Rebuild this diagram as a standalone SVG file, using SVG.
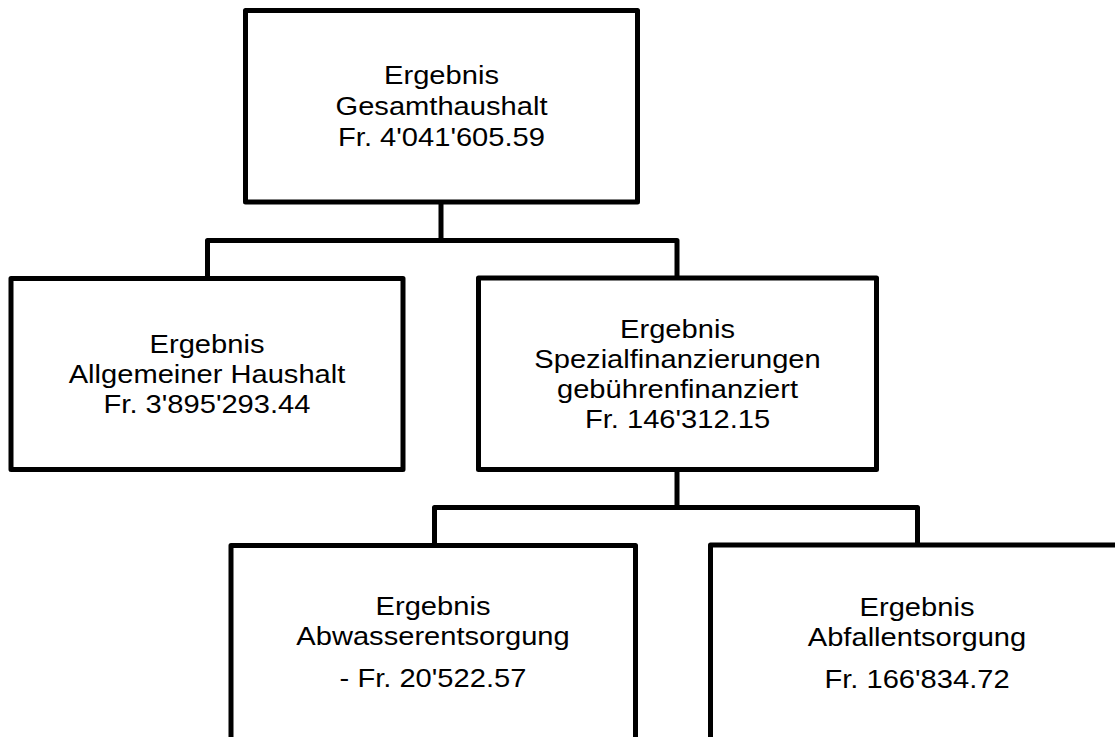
<svg xmlns="http://www.w3.org/2000/svg" width="1115" height="737" viewBox="0 0 1115 737">
<style>
.box{fill:#fff;stroke:#000;stroke-width:5;stroke-linejoin:round}
.conn{fill:none;stroke:#000;stroke-width:5;stroke-linejoin:round}
text{font-family:"Liberation Sans",Arial,sans-serif;font-size:26px;fill:#000;text-anchor:middle}
</style>
<rect width="1115" height="737" fill="#fff"/>
<g id="connectors">
<path class="conn" d="M441,202 V240.5 M207.5,278.5 V240.5 H677 V278"/>
<path class="conn" d="M677,469.5 V507.5 M434.5,545.5 V507.5 H917.5 V545"/>
</g>
<g id="node-gesamt">
<rect class="box" x="245.5" y="10.5" width="392" height="191.5"/>
<g transform="translate(441.5,0) scale(1.12,1)">
<text x="0" y="84">Ergebnis</text>
<text x="0" y="115">Gesamthaushalt</text>
<text x="0" y="146">Fr. 4'041'605.59</text>
</g>
</g>
<g id="node-allgemein">
<rect class="box" x="11" y="278.5" width="392" height="191"/>
<g transform="translate(207,0) scale(1.12,1)">
<text x="0" y="353">Ergebnis</text>
<text x="0" y="383">Allgemeiner Haushalt</text>
<text x="0" y="413">Fr. 3'895'293.44</text>
</g>
</g>
<g id="node-spezial">
<rect class="box" x="478.5" y="278" width="398" height="191.5"/>
<g transform="translate(677.5,0) scale(1.12,1)">
<text x="0" y="338">Ergebnis</text>
<text x="0" y="368">Spezialfinanzierungen</text>
<text x="0" y="398">gebührenfinanziert</text>
<text x="0" y="428">Fr. 146'312.15</text>
</g>
</g>
<g id="node-abwasser">
<rect class="box" x="231" y="545.5" width="404.5" height="230"/>
<g transform="translate(433,0) scale(1.12,1)">
<text x="0" y="615">Ergebnis</text>
<text x="0" y="645">Abwasserentsorgung</text>
<text x="0" y="687">- Fr. 20'522.57</text>
</g>
</g>
<g id="node-abfall">
<rect class="box" x="710.5" y="545" width="450" height="230"/>
<g transform="translate(917,0) scale(1.12,1)">
<text x="0" y="616">Ergebnis</text>
<text x="0" y="646.5">Abfallentsorgung</text>
<text x="0" y="688">Fr. 166'834.72</text>
</g>
</g>
</svg>
